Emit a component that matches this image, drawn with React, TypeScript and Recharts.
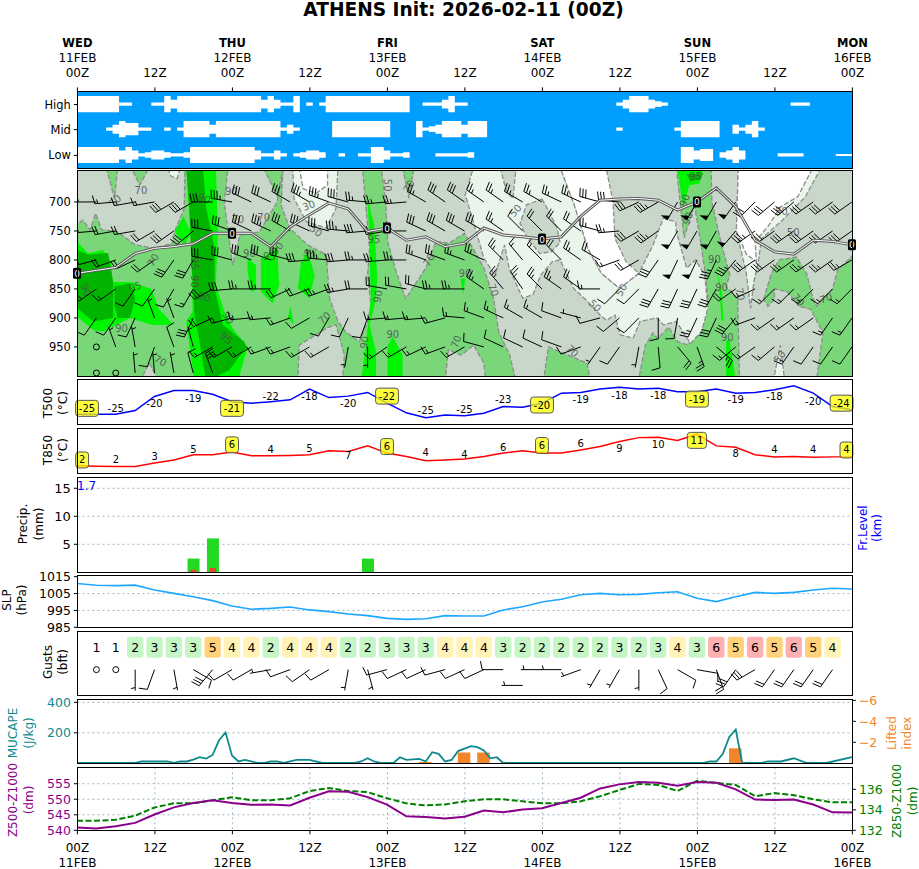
import React from "react";
import { Area, Bar, CartesianGrid, ComposedChart, Line, Scatter, XAxis, YAxis } from "recharts";

const H3 = Array.from({ length: 41 }, (_, i) => i * 3);
const X_TICKS = [0, 12, 24, 36, 48, 60, 72, 84, 96, 108, 120];
const X_GRID = [12, 24, 36, 48, 60, 72, 84, 96, 108];
const DAYS = ["WED", "THU", "FRI", "SAT", "SUN", "MON"];
const DATES = ["11FEB", "12FEB", "13FEB", "14FEB", "15FEB", "16FEB"];

// cloud cover, change points
const highHours = [0,6.5,8.5,11.5,13.5,14.5,15.5,28.5,29.5,30.5,31.5,33.5,34.5,35.5,36.5,37.5,38.5,51.5,53.5,56.5,57.5,58.5,60.5,83.5,84.5,85.5,88.5,89.5,90.5,91.5,110.5,113.5,120];
const highCover = [100,20,0,20,100,55,100,55,100,55,20,100,0,20,0,20,100,0,20,55,100,20,0,20,55,100,55,35,20,0,20,0,0];
const midHours = [0,4.5,5.5,6.5,7.5,9.5,11.5,13.5,14.5,15.5,16.5,20.5,21.5,31.5,32.5,33.5,34.5,39.5,48.5,52.5,53.5,54.5,55.5,56.5,59.5,60.5,63.5,83.5,84.5,92.5,93.5,99.5,101.5,102.5,103.5,104.5,105.5,106.5,120];
const midCover = [0,20,55,100,75,20,0,20,0,20,100,55,100,20,55,20,0,100,0,100,20,35,55,100,55,100,0,20,0,20,100,0,55,20,55,100,20,0,0];
const lowHours = [0,6.5,7.5,8.5,9.5,10.5,11.5,13.5,14.5,16.5,17.5,27.5,28.5,30.5,31.5,32.5,33.5,34.5,35.5,37.5,38.5,40.5,41.5,43.5,45.5,47.5,48.5,50.5,51.5,55.5,60.5,61.5,93.5,95.5,96.5,98.5,99.5,100.5,101.5,102.5,103.5,108.5,112.5,117.5,120];
const lowCover = [100,55,100,55,20,35,55,35,20,35,100,55,20,55,20,0,20,35,55,35,0,20,0,20,100,55,20,35,0,20,35,0,100,55,75,0,35,55,100,55,0,20,0,12,12];

// relative humidity regions, [hour, hPa]
const rh70Left = [[-1,640],[47.1,640],[47.8,700],[48.1,768],[49.4,820],[50.9,867],[54,814],[55.6,768],[57.6,771],[60,754],[63,814],[64.5,866],[65.3,924],[67,964],[68,1010],[-1,1010]];
const rh70Mid = [[72.2,1010],[73,950],[79,978],[79.5,1010]];
const rh70Center = [[92.8,640],[94,762],[95.6,705],[96.6,770],[97.3,826],[97.7,866],[96.3,906],[95.9,930],[94.4,946],[93,941],[91.6,916],[89.9,936],[89.2,926],[88,947],[86.9,1010],[102.6,1010],[102.3,866],[100.5,846],[101.1,826],[99.8,774],[98.3,700],[98.2,640]];
const rh70Right = [[106.3,868],[107.5,824],[108.7,800],[111.4,795],[113,824],[113.8,860],[114.5,880],[117,850],[117.8,817],[121,783],[121,1010],[114.5,1010],[115.5,925],[113.6,885],[111.8,880],[110,855],[108,850],[108,868],[107,880]];
const rh50TopLeft = [[-1,640],[16.7,640],[16.6,711],[15.1,751],[14.8,771],[12,780],[9,774],[6.2,751],[3.8,748],[2.9,720],[2,748],[0.9,731],[-1,748]];
const rh50Spindle = [[23.4,640],[31.9,640],[31,700],[28.2,752],[25.2,757],[24.1,809],[23.4,752],[22.8,700]];
const rh50Middle = [[31.9,640],[44.2,640],[44.7,705],[45.3,780],[45,826],[45.5,878],[45,906],[43.7,941],[41.6,924],[40.4,906],[39.1,866],[38.6,791],[35.7,774],[32.9,745],[31.6,705]];
const rh50Bottom = [[34.2,1010],[34.4,947],[38.6,918],[40.1,911],[41.4,964],[41.1,1010]];
const rh50Low = [[57,1010],[57.5,955],[59.5,964],[61.4,947],[63,978],[63.3,1010]];
const rh50Corner = [[9.7,1010],[11.2,978],[12.7,1010]];
const rh70Wedge1 = [[4.5,640],[6.3,640],[5.8,694]];
const rh70Wedge2 = [[8.4,640],[11.2,640],[9.7,671]];
const rh70Wedge3 = [[28.8,640],[32,640],[31,690]];
const rh70Wedge4 = [[50.4,640],[52.2,640],[51.4,694]];
const rh50Island = [[72,695],[73,715],[74.3,744],[74.8,770],[73.4,786],[71.7,789],[69.9,766],[68.6,737],[69.6,705]];
const rh50Prong = [[65.5,640],[68,640],[67.5,694],[66.5,682]];
const rh30Main = [[61.4,640],[74.8,640],[77,705],[79.1,780],[81.2,823],[84,849],[87,823],[89.2,774],[90.8,728],[92.7,734],[92.8,751],[94.4,814],[95.8,800],[97.2,826],[97.7,883],[96.7,924],[95,944],[92.8,906],[90.8,912],[89.8,900],[87.2,906],[86.1,935],[84.1,929],[83.3,895],[82,904],[81,895],[79.1,872],[76.9,849],[74.8,800],[73.6,803],[71.8,826],[70.6,860],[69,866],[66.9,814],[66.2,774],[64.7,826],[63,797],[60.6,705],[60.1,688]];
const rh30Mid = [[33.4,640],[40.4,640],[40.1,711],[38.6,745],[35.5,734],[33.6,694]];
const rh30Right = [[102.4,640],[115.3,640],[113.5,676],[112.8,691],[109,734],[106,763],[105.5,803],[104.8,838],[104.3,883],[103.6,820],[102.1,751]];
const rh30Spot = [[107.8,1010],[108.9,947],[109.6,1010]];
const rh30Top = [[14,640],[16,640],[15.5,660],[14.5,655]];
const dryMid = [[34.4,640],[38.8,640],[38.8,671],[37,685],[35,677]];
const dryCenter = [[74.8,640],[81.9,640],[83,700],[83.3,763],[85,803],[87,823],[84,849],[81.2,823],[79.1,780],[77,705]];
const dryRight = [[102.4,640],[114,640],[111.6,691],[109,708],[107,742],[105,769],[105.2,803],[103.7,791],[102.1,751]];
const rh90List = [
  [[0,768],[1.7,789],[4,783],[5.3,803],[5.5,838],[8.5,838],[11.5,850],[12.7,885],[15,912],[11.7,912],[8.2,900],[4,924],[2.5,921],[0,897]],
  [[17.2,640],[21.5,640],[21.8,751],[21.5,843],[22.8,889],[24.1,918],[26.4,950],[24.9,1010],[18.2,1010],[16.9,906],[17.9,889],[17.7,780],[16.9,640]],
  [[15.1,751],[16.5,725],[17.7,754],[16.6,774]],
  [[26.4,797],[27.7,809],[27.7,852],[27,855],[26.4,821]],
  [[28.5,797],[31,780],[31.3,843],[30.3,875],[28.5,855]],
  [[34.7,803],[35.7,786],[36.8,826],[36,866],[34.2,849]],
  [[33.1,880],[32.6,900],[33.5,910]],
  [[45,694],[46,740],[46.5,832],[46.2,872],[45.3,912],[46.3,958],[46.3,1010],[44,1010],[44.7,947],[45.5,866],[45.3,768]],
  [[48.1,947],[48.9,932],[50.4,964],[50.4,1010],[48.1,1010]],
  [[59.4,832],[60.1,832],[59.8,860]],
  [[92.9,640],[97,640],[96.4,668],[94.8,671],[93.9,711]],
  [[98.7,803],[99.8,850],[100.1,905],[99.8,905],[99.4,840]],
  [[100.5,941],[101,935],[102,1010],[100.5,1010]],
];
const rh95List = [
  [[16.9,640],[19.5,640],[20,711],[21.3,780],[21.3,849],[22.6,912],[25.9,941],[26.2,950],[23.6,990],[20,1010],[18.7,924],[18.2,895],[17.7,797],[17.4,711]],
  [[0,783],[1.7,791],[4.8,788],[5.6,838],[5.6,900],[2.5,906],[0,883]],
  [[5.8,846],[8.2,840],[9,866],[8.2,900],[6.3,900],[5.8,878]],
  [[94.4,652],[97,650],[96.5,660],[95,665]],
];

const rhLabelHours = [9.9,5.9,19.7,23.9,24.9,28.9,35.9,37,48.1,51.4,11.8,26.7,29.8,31,36,18.2,18.2,19.7,9,1.4,46,46.6,54.5,38.3,44.5,48.9,23.4,23.1,6.9,12.9,58.7,67.9,60.1,64.5,84.3,80.2,76.7,98.7,99.8,102.7,100.7,108.8,111.7,116,109.1,110.9,95.8,94.1,94.6];
const rhLabelLevels = [680,698,694,682,731,727,706,750,671,673,800,789,794,780,790,806,837,864,846,852,764,863,800,900,942,928,900,935,919,974,941,715,823,852,852,879,957,799,848,859,933,967,869,866,716,753,656,697,728];
const rhLabelTexts = [70,70,90,90,70,70,30,50,50,70,70,90,95,90,90,95,90,90,95,90,95,90,70,70,90,90,90,95,90,70,70,50,90,70,50,50,70,90,90,70,90,50,70,70,50,50,95,90,90];
const rhLabelAngles = [0,-40,20,0,0,0,-20,40,90,-60,-60,0,0,-50,20,90,90,20,-20,70,0,-80,-60,-40,-80,0,60,40,0,30,-70,-50,0,70,-60,45,45,0,0,80,0,-50,50,-20,0,0,0,-70,-70];

// wind barbs per level, 3-hourly
const dir700 = [275,270,265,260,260,240,240,270,280,295,295,300,300,290,285,275,265,265,300,305,305,305,305,300,300,295,295,285,275,245,240,210,210,210,215,225,230,230,235,235,235];
const spd700 = [10,15,15,15,15,30,30,30,35,30,30,30,35,35,30,25,25,25,25,30,30,25,25,25,25,25,25,30,30,30,35,50,50,50,50,30,30,30,30,30,30];
const dir750 = [275,265,260,260,240,235,230,280,290,295,295,300,295,285,275,265,260,270,295,300,300,300,305,315,315,315,305,285,265,240,235,210,210,210,220,235,235,235,235,235,235];
const spd750 = [15,15,20,20,20,30,30,30,30,30,35,30,30,30,35,30,25,25,30,30,30,30,25,10,20,20,20,25,25,30,35,50,50,50,50,35,30,30,30,30,30];
const dir800 = [255,255,250,245,235,215,210,280,285,290,290,285,265,275,265,270,265,270,290,290,290,295,315,320,315,315,305,300,250,240,215,205,205,205,220,235,235,235,235,235,240];
const spd800 = [20,20,20,20,20,30,30,30,30,30,30,30,30,35,30,25,25,25,25,25,25,25,25,15,15,20,25,20,15,20,30,50,50,35,35,30,30,25,25,25,25];
const dir850 = [235,235,235,215,215,210,210,240,265,270,270,245,250,250,260,270,280,280,285,270,270,305,320,325,315,305,305,270,225,225,210,205,205,210,235,245,225,225,225,225,225];
const spd850 = [20,20,15,10,10,10,15,30,30,25,25,20,20,25,25,20,20,20,20,25,25,25,25,25,25,25,20,15,10,10,30,30,30,30,20,15,15,15,15,15,15];
const dir900 = [215,215,215,205,340,340,205,245,255,265,265,250,240,210,205,200,265,265,265,255,275,290,295,300,300,290,285,255,230,225,180,190,205,205,220,250,235,235,235,215,215];
const spd900 = [10,10,10,10,5,5,30,20,15,15,15,15,10,10,10,10,15,15,15,15,15,15,15,15,15,10,5,10,10,10,10,10,25,30,30,15,15,15,15,15,15];
const dir950 = [260,0,340,350,200,340,345,240,240,240,250,250,240,240,190,180,235,240,245,250,240,285,295,295,295,290,250,215,215,190,175,140,160,130,230,235,230,215,215,215,215];
const spd950 = [5,0,5,5,10,10,5,15,15,15,15,15,15,15,5,5,15,15,15,15,15,10,10,10,10,10,10,5,10,5,10,20,25,25,15,15,15,15,10,10,10];
const dir995 = [300,0,0,355,355,350,345,340];
const spd995 = [5,0,0,5,5,5,10,30];

const freezingLevel = [823,818,813,789,780,777,772,754,754,754,777,743,722,702,712,751,745,766,760,777,771,745,757,760,764,760,725,697,695,694,697,714,700,676,708,766,786,790,766,768,774];

const t500 = [-25,-25,-25,-24,-20.2,-18.6,-18.6,-19.6,-21.6,-22,-21.6,-21.1,-18.2,-20.5,-20.1,-19.1,-22,-24.6,-25.9,-25.2,-25.4,-24.7,-22.9,-23.1,-22,-19.3,-19.1,-18.2,-17.7,-18.2,-18,-18.9,-18.9,-18.2,-19.3,-19.1,-18.4,-17.3,-19.3,-22.9,-23.8];
const t500LabelHours = [0,6,12,18,24,30,36,42,48,54,60,66,72,78,84,90,96,102,108,114,120];
const t500LabelTexts = ["-25","-25","-20","-19","-21","-22","-18","-20","-22","-25","-25","-23","-20","-19","-18","-18","-19","-19","-18","-20","-24"];
const t500LabelPos = [-23.4,-23.4,-22,-20.7,-23.4,-20.2,-20.1,-22.2,-20.1,-24.1,-23.7,-21.1,-22.5,-21.1,-19.8,-19.8,-20.9,-20.9,-20.1,-21.6,-22];

const t850 = [2,1.9,1.8,1.8,2.8,3.7,5.2,5.2,6,4.9,4.9,5,5.2,6.4,6.2,7.8,5.7,4.7,3.5,3.7,4,4.7,5.7,6.4,5.7,5.7,6.6,7.6,9.1,10.2,10.3,9.4,11.2,7.8,7.4,5.2,4.6,4.7,4.5,4.6,4.6];
const t850LabelTexts = ["2","2","3","5","6","4","5","7","6","4","4","6","6","6","9","10","11","8","4","4","4"];
const t850LabelPos = [3.7,3.7,4.7,6.6,8.1,6.6,6.9,4.9,7.6,6,5.4,7.4,7.9,8.4,6.9,8.1,9.4,5.5,6.6,6.6,6.6];

const rainHours = [18, 21, 45];
const rainTotal = [2.4, 6, 2.4];
const rainConvective = [0.4, 0.7, 0];

const slp = [1011,1009.9,1009.7,1010,1007.1,1005.1,1003.1,1000.8,997.6,995.7,996.2,997,995.3,994.3,992.9,991.9,990.3,989.7,990.1,991.9,991.7,991.7,995.3,997.2,1000,1001.6,1004.3,1005.1,1004.3,1004.5,1005.5,1006.1,1002.2,1000.2,1003.1,1005.7,1005.1,1005.7,1007.1,1008.1,1007.7];

const gustHours = [3,6,9,12,15,18,21,24,27,30,33,36,39,42,45,48,51,54,57,60,63,66,69,72,75,78,81,84,87,90,93,96,99,102,105,108,111,114,117];
const gustBft = [1,1,2,3,3,3,5,4,4,2,4,4,4,2,2,3,3,3,4,4,4,3,2,2,2,2,2,3,2,3,4,3,6,5,6,5,6,5,4];
const wind10Dir = [0,0,180,200,170,120,220,240,240,260,250,235,240,190,165,255,245,245,255,245,245,270,270,270,270,250,210,210,180,155,120,100,160,215,240,215,215,215,215];
const wind10Spd = [0,0,5,10,5,10,30,10,10,5,10,10,10,5,5,10,10,10,10,10,10,10,5,5,5,5,5,5,5,10,10,10,20,30,30,20,20,20,20];

const capeHours = [0,9,10,14,15,16,17,18,19,20,21,22,23,24,25,26,27,28,29,30,31,32,33,34,36,38,43,44,45,46,47,49,50,51,53,54,55,56,57,58,59,61,62,63,64,65,66,97,98,99,100,101,102,103,106,107,109,111,113,116,120];
const capeValues = [0,0,10,10,0,10,10,22,38,29,53,149,200,49,10,20,10,0,0,10,10,0,10,20,20,0,0,10,31,10,0,0,38,20,27,10,71,60,10,20,78,111,104,82,31,38,0,0,10,10,60,171,220,0,0,10,10,31,0,0,38];
const liftedHours = [54, 60, 63, 102];
const liftedValues = [-0.1, -1, -1, -1.4];

const z500 = [540.8,540.5,541.2,542.3,545,547.3,548.7,549.6,548.7,548.1,548.2,547.9,550.4,552.5,552.3,550.6,548.2,544.4,544.2,543.7,544.3,546.3,545.7,546.6,547,548.7,550.4,553.4,554.7,555.5,555.2,554.3,555.5,555.2,553.1,549.8,549.7,549.8,548.2,545.7,545.6];
const z850 = [132.9,132.9,133,133.4,134.2,134.6,134.6,134.9,135.2,134.9,134.9,135.1,135.8,136.1,135.8,135.7,135.1,134.6,134.4,134.5,134.8,135,135,134.8,134.6,134.6,134.8,135.3,135.9,136.5,136.4,135.8,136.8,136.6,136.4,135.3,135.6,135.4,135,134.7,134.7];

const GRID_STROKE = "#9fb6c4";
const PLOT_LEFT = 77.4;
const PLOT_W = 775;

const series = (values: number[]) => values.map((v, i) => ({ h: H3[i], y: v }));
const points = (pts: number[][]) => pts.map(([h, y]) => ({ h, y }));

const cloudBand = (hours: number[], cover: number[], center: number) =>
  hours.map((h, i) => ({ h, band: [center - cover[i] * 0.0032, center + cover[i] * 0.0032] }));

const barbRows = [
  [700, dir700, spd700], [750, dir750, spd750], [800, dir800, spd800],
  [850, dir850, spd850], [900, dir900, spd900], [950, dir950, spd950], [995, dir995, spd995],
] as [number, number[], number[]][];
const barbData = barbRows.flatMap(([p, d, s]) => d.map((dir, i) => ({ h: H3[i], y: p, dir, spd: s[i] })));
const rhLabels = rhLabelHours.map((h, i) => ({ h, y: rhLabelLevels[i], text: rhLabelTexts[i], angle: rhLabelAngles[i] }));
const tempLabels = (texts: string[], pos: number[]) => t500LabelHours.map((h, i) => ({ h, y: pos[i], text: texts[i], boxed: h % 24 === 0 }));
const precipData = rainHours.map((h, i) => ({ h, rain: rainTotal[i], conv: rainConvective[i] }));
const gustData = gustHours.map((h, i) => ({ h, y: 0.748, bft: gustBft[i] }));
// the 69h barb sits lower in the reference panel
const wind10Data = gustHours.map((h, i) => ({ h, y: h === 69 ? 0.155 : 0.4, dir: wind10Dir[i], spd: wind10Spd[i] }));
const capeData = capeHours.map((h, i) => ({ h, y: capeValues[i] }));
const liftedData = liftedHours.map((h, i) => ({ h, li: liftedValues[i] }));

const bftColor = (b: number) => (b >= 6 ? "#ffb0b0" : b === 5 ? "#ffd27a" : b === 4 ? "#fff3b8" : b >= 2 ? "#c6f5c6" : "none");

const Barb = (props: any) => {
  const { cx, cy, payload } = props;
  const { dir, spd } = payload;
  if (!spd) return <circle cx={cx} cy={cy} r={3} fill="none" stroke="#000" strokeWidth={1} />;
  const a = (dir * Math.PI) / 180;
  const ux = Math.sin(a);
  const uy = -Math.cos(a);
  const vx = -uy;
  const vy = ux;
  const len = 21;
  const fx = cx + ux * len;
  const fy = cy + uy * len;
  const parts: React.ReactNode[] = [];
  let rem = Math.round(spd / 5) * 5;
  let pos = 0;
  while (rem >= 50) {
    const x0 = fx - ux * pos;
    const y0 = fy - uy * pos;
    const x1 = x0 - ux * 5;
    const y1 = y0 - uy * 5;
    parts.push(<polygon key={`f${pos}`} points={`${x0},${y0} ${x1},${y1} ${x0 + vx * 8 - ux * 1},${y0 + vy * 8 - uy * 1}`} fill="#000" />);
    pos += 6;
    rem -= 50;
  }
  while (rem >= 10) {
    const x0 = fx - ux * pos;
    const y0 = fy - uy * pos;
    parts.push(<line key={`b${pos}`} x1={x0} y1={y0} x2={x0 + vx * 8.5 + ux * 1.8} y2={y0 + vy * 8.5 + uy * 1.8} stroke="#000" strokeWidth={1} />);
    pos += 3;
    rem -= 10;
  }
  if (rem >= 5) {
    if (pos === 0) pos = 3;
    const x0 = fx - ux * pos;
    const y0 = fy - uy * pos;
    parts.push(<line key="h" x1={x0} y1={y0} x2={x0 + vx * 4.2 + ux * 0.9} y2={y0 + vy * 4.2 + uy * 0.9} stroke="#000" strokeWidth={1} />);
  }
  return (
    <g>
      <line x1={cx} y1={cy} x2={fx} y2={fy} stroke="#000" strokeWidth={1} />
      {parts}
    </g>
  );
};

const RhLabel = (props: any) => {
  const { cx, cy, payload } = props;
  return (
    <text x={cx} y={cy} fontSize={10} fill="#4d4d4d" fillOpacity={0.85} textAnchor="middle" dominantBaseline="central" transform={`rotate(${payload.angle} ${cx} ${cy})`}>
      {payload.text}
    </text>
  );
};

const TempLabel = (props: any) => {
  const { cx, cy, payload } = props;
  const t: string = payload.text;
  if (!payload.boxed) {
    return <text x={cx} y={cy} fontSize={10} fill="#000" textAnchor="middle" dominantBaseline="central">{t}</text>;
  }
  const digits = t.replace("-", "").length;
  const w = digits * 6.36 + (t.startsWith("-") ? 3.6 : 0) + 6.5;
  const left = Math.max(-1.4, Math.min(PLOT_W + 1 - w, cx - w / 2));
  return (
    <g>
      <rect x={left} y={cy - 8} width={w} height={16} rx={3} fill="#ffff00" fillOpacity={0.75} stroke="#555" strokeWidth={1} />
      <text x={left + w / 2} y={cy} fontSize={10} fill="#000" textAnchor="middle" dominantBaseline="central">{t}</text>
    </g>
  );
};

const GustBox = (props: any) => {
  const { cx, cy, payload } = props;
  return (
    <g>
      <rect x={cx - 8.2} y={cy - 10.5} width={16.4} height={21} rx={3} fill={bftColor(payload.bft)} />
      <text x={cx} y={cy} fontSize={12.5} fill="#000" textAnchor="middle" dominantBaseline="central">{payload.bft}</text>
    </g>
  );
};

const FreezeDot = (props: any) => {
  const { cx, cy, payload } = props;
  if (payload.h % 24 !== 0) return null;
  return (
    <g key={payload.h}>
      <rect x={cx - 4} y={cy - 5.5} width={8} height={11} rx={1.5} fill="#000" />
      <text x={cx} y={cy + 0.5} fontSize={9} fill="#fff" textAnchor="middle" dominantBaseline="central">0</text>
    </g>
  );
};

const TopTick = (props: any) => {
  const { x, payload } = props;
  const i = payload.value / 24;
  const base = 91.4;
  return (
    <g>
      {Number.isInteger(i) && <text x={x} y={base - 48.5} fontSize={11.5} fontWeight="bold" textAnchor="middle" dominantBaseline="central">{DAYS[i]}</text>}
      {Number.isInteger(i) && <text x={x} y={base - 33.5} fontSize={12} textAnchor="middle" dominantBaseline="central">{DATES[i]}</text>}
      <text x={x} y={base - 18} fontSize={12} textAnchor="middle" dominantBaseline="central">{payload.value % 24 === 0 ? "00Z" : "12Z"}</text>
    </g>
  );
};

const BottomTick = (props: any) => {
  const { x, payload } = props;
  const i = payload.value / 24;
  return (
    <g>
      <text x={x} y={848} fontSize={12} textAnchor="middle" dominantBaseline="central">{payload.value % 24 === 0 ? "00Z" : "12Z"}</text>
      {Number.isInteger(i) && <text x={x} y={862.7} fontSize={12} textAnchor="middle" dominantBaseline="central">{DATES[i]}</text>}
    </g>
  );
};

// scales, ticks and grid of one panel; the chart spans the whole page so header ticks land in place
function PanelAxes(props: any) {
  const { top, height, domain, reversed, ticks, tickColor = "#000", tickFont = 12.5, format, grid, rightDomain, rightReversed, rightTicks, rightColor, rightFormat, header, footer } = props;
  return (
    <div style={{ position: "absolute", left: 0, top: 0 }}>
      <ComposedChart
        width={919}
        height={869}
        data={[{ h: 0, y: domain[0] }]}
        margin={{ top: header ? top - 6 : top, bottom: 869 - top - height - 6, left: PLOT_LEFT - 50, right: 919 - PLOT_LEFT - PLOT_W - 50 }}
      >
        <CartesianGrid stroke={GRID_STROKE} strokeDasharray="2 3" vertical verticalValues={X_GRID} horizontal={!!grid} horizontalValues={grid || []} />
        <XAxis dataKey="h" type="number" domain={[0, 120]} ticks={X_TICKS} interval={0} height={6} tickSize={4} axisLine={false} tickLine={{ stroke: "#000" }} tick={footer ? <BottomTick /> : false as any} tickFormatter={() => ""} allowDataOverflow />
        {header && (
          <XAxis xAxisId="top" orientation="top" dataKey="h" type="number" domain={[0, 120]} ticks={X_TICKS} interval={0} height={6} tickSize={4} axisLine={false} tickLine={{ stroke: "#000" }} tick={<TopTick />} allowDataOverflow />
        )}
        <YAxis dataKey="y" type="number" width={50} domain={domain} reversed={reversed} ticks={ticks || []} interval={0} tickSize={3.5} tickMargin={3} axisLine={false} tickLine={{ stroke: "#000" }} tick={{ fontSize: tickFont, fill: tickColor }} tickFormatter={format} allowDataOverflow />
        <YAxis yAxisId="r" orientation="right" type="number" width={50} domain={rightDomain || [0, 1]} reversed={rightReversed} ticks={rightTicks || []} interval={0} tickSize={3.5} tickMargin={3} axisLine={false} tickLine={{ stroke: "#000" }} tick={{ fontSize: tickFont, fill: rightColor || "#000" }} tickFormatter={rightFormat} allowDataOverflow />
      </ComposedChart>
    </div>
  );
}

// marks of one panel, exactly the size of the plot area
function Marks(props: any) {
  const { top, height, domain, reversed, rightDomain, rightReversed, clip, data, background, children } = props;
  return (
    <div style={{ position: "absolute", left: PLOT_LEFT, top, width: PLOT_W, height, overflow: clip ? "hidden" : "visible", background }}>
      <ComposedChart width={PLOT_W} height={height} data={data} margin={{ top: 0, right: 0, bottom: 0, left: 0 }}>
        <XAxis dataKey="h" type="number" domain={[0, 120]} hide allowDataOverflow={!!clip} />
        <XAxis xAxisId="inner" dataKey="h" type="number" domain={[0, 120]} hide allowDataOverflow={!!clip} />
        <YAxis dataKey="y" type="number" domain={domain} reversed={reversed} hide allowDataOverflow={!!clip} />
        {rightDomain && <YAxis yAxisId="r" type="number" orientation="right" domain={rightDomain} reversed={rightReversed} hide allowDataOverflow={!!clip} />}
        {children}
      </ComposedChart>
    </div>
  );
}

const Frame = ({ top, height }: { top: number; height: number }) => (
  <div style={{ position: "absolute", left: PLOT_LEFT - 0.6, top: top - 0.6, width: PLOT_W + 1.2, height: height + 1.2, boxSizing: "border-box", border: "1.2px solid #000", pointerEvents: "none" }} />
);

const region = (pts: number[][], fill: string, key: string, stroked = true) => (
  <Scatter
    key={key}
    data={points(pts)}
    isAnimationActive={false}
    shape={() => null as any}
    lineJointType="linearClosed"
    line={{ fill, stroke: stroked ? "#8c8c8c" : "none", strokeWidth: 1.3, strokeDasharray: "5 2" } as any}
  />
);

const AxisTitle = ({ x, y, color = "#000", children }: any) => (
  <text x={x} y={y} fontSize={12} fill={color} textAnchor="middle" dominantBaseline="central" transform={`rotate(-90 ${x} ${y})`}>{children}</text>
);

const GREY = "#c9d7ca";
const GREEN = "#79d679";
const BRIGHT = "#00f500";
const DARK = "#00b400";
const PALE = "#e9f4ea";

export default function App() {
  return (
    <div style={{ position: "absolute", left: 0, top: 0, width: 919, height: 869, overflow: "hidden", background: "#fff", fontFamily: "'DejaVu Sans', sans-serif" }}>
      <style>{"svg{overflow:visible}"}</style>

      {/* Cloud layers */}
      <Marks top={91.4} height={76.9} domain={[0, 3.04]} background="#009fff" clip>
        <Area data={cloudBand(highHours, highCover, 2.52)} dataKey="band" type="stepAfter" stroke="none" fill="#fff" fillOpacity={1} isAnimationActive={false} />
        <Area data={cloudBand(midHours, midCover, 1.53)} dataKey="band" type="stepAfter" stroke="none" fill="#fff" fillOpacity={1} isAnimationActive={false} />
        <Area data={cloudBand(lowHours, lowCover, 0.51)} dataKey="band" type="stepAfter" stroke="none" fill="#fff" fillOpacity={1} isAnimationActive={false} />
      </Marks>
      <PanelAxes top={91.4} height={76.9} domain={[0, 3.04]} ticks={[0.51, 1.53, 2.52]} tickFont={11.5} format={(v: number) => (v > 2 ? "High" : v > 1 ? "Mid" : "Low")} header />
      <Frame top={91.4} height={76.9} />

      {/* Humidity and wind cross section */}
      <Marks top={171} height={205.2} domain={[646.6, 1000.5]} reversed background={GREY} clip>
        {region(rh70Left, GREEN, "g1")}
        {region(rh70Mid, GREEN, "g2")}
        {region(rh70Center, GREEN, "g3")}
        {region(rh70Right, GREEN, "g4")}
        {region(rh50TopLeft, GREY, "s1")}
        {region(rh50Spindle, GREY, "s2")}
        {region(rh50Middle, GREY, "s3")}
        {region(rh50Bottom, GREY, "s4")}
        {region(rh50Low, GREY, "s5")}
        {region(rh50Corner, GREY, "s6")}
        {region(rh70Wedge1, GREEN, "w1")}
        {region(rh70Wedge2, GREEN, "w2")}
        {region(rh70Wedge3, GREEN, "w3")}
        {region(rh70Wedge4, GREEN, "w4")}
        {region(rh30Main, PALE, "p1")}
        {region(rh50Island, GREY, "s7")}
        {region(rh50Prong, GREY, "s8")}
        {region(rh30Mid, PALE, "p2")}
        {region(rh30Right, PALE, "p3")}
        {region(rh30Spot, PALE, "p4")}
        {region(rh30Top, PALE, "p5")}
        {region(dryMid, "#fff", "d1")}
        {region(dryCenter, "#fff", "d2")}
        {region(dryRight, "#fff", "d3")}
        {rh90List.map((pts, i) => region(pts, BRIGHT, `b${i}`, false))}
        {rh95List.map((pts, i) => region(pts, DARK, `k${i}`, false))}
        <Scatter data={rhLabels} isAnimationActive={false} shape={<RhLabel />} />
        <Scatter data={barbData} isAnimationActive={false} shape={<Barb />} />
      </Marks>
      <PanelAxes top={171} height={205.2} domain={[646.6, 1000.5]} reversed ticks={[700, 750, 800, 850, 900, 950]} tickFont={11.5} />
      <Marks top={171} height={205.2} domain={[646.6, 1000.5]} reversed>
        <Line data={series(freezingLevel)} dataKey="y" stroke="#5a5a5a" strokeWidth={3} dot={false} isAnimationActive={false} />
        <Line data={series(freezingLevel)} dataKey="y" stroke="#fff" strokeWidth={1} dot={<FreezeDot />} isAnimationActive={false} />
      </Marks>
      <Frame top={171} height={205.2} />

      {/* T500 */}
      <PanelAxes top={380} height={44.3} domain={[-27.7, -15.75]} />
      <Marks top={380} height={44.3} domain={[-27.7, -15.75]}>
        <Line data={series(t500)} dataKey="y" stroke="#0000ff" strokeWidth={1.5} dot={false} isAnimationActive={false} />
        <Scatter data={tempLabels(t500LabelTexts, t500LabelPos)} isAnimationActive={false} shape={<TempLabel />} />
      </Marks>
      <Frame top={380} height={44.3} />

      {/* T850 */}
      <PanelAxes top={428.3} height={44.7} domain={[0, 13]} />
      <Marks top={428.3} height={44.7} domain={[0, 13]}>
        <Line data={series(t850)} dataKey="y" stroke="#ff0000" strokeWidth={1.5} dot={false} isAnimationActive={false} />
        <Scatter data={tempLabels(t850LabelTexts, t850LabelPos)} isAnimationActive={false} shape={<TempLabel />} />
      </Marks>
      <Frame top={428.3} height={44.7} />

      {/* Precipitation */}
      <PanelAxes top={477.3} height={95} domain={[0, 16.96]} ticks={[5, 10, 15]} tickFont={13} grid={[5, 10, 15]} />
      <Marks top={477.3} height={95} domain={[0, 16.96]} data={precipData} clip>
        <Bar dataKey="rain" fill="#22d822" barSize={12} isAnimationActive={false} />
        <Bar dataKey="conv" xAxisId="inner" fill="#f04030" barSize={6} isAnimationActive={false} />
      </Marks>
      <Frame top={477.3} height={95} />

      {/* SLP */}
      <PanelAxes top={576} height={51.3} domain={[985, 1015.4]} ticks={[985, 995, 1005, 1015]} tickFont={12.5} grid={[995, 1005]} />
      <Marks top={576} height={51.3} domain={[985, 1015.4]}>
        <Line data={series(slp)} dataKey="y" stroke="#1ea7ff" strokeWidth={1.6} dot={false} isAnimationActive={false} />
      </Marks>
      <Frame top={576} height={51.3} />

      {/* Gusts */}
      <PanelAxes top={631.3} height={64.4} domain={[0, 1]} />
      <Marks top={631.3} height={64.4} domain={[0, 1]} clip>
        <Scatter data={gustData} isAnimationActive={false} shape={<GustBox />} />
        <Scatter data={wind10Data} isAnimationActive={false} shape={<Barb />} />
      </Marks>
      <Frame top={631.3} height={64.4} />

      {/* MUCAPE and lifted index */}
      <PanelAxes top={699.3} height={64} domain={[0, 420]} ticks={[200, 400]} tickColor="#0e8a8f" tickFont={12.5} grid={[200, 400]} rightDomain={[-6.1, 0]} rightReversed rightTicks={[-6, -4, -2]} rightColor="#f28527" rightFormat={(v: number) => `\u2212${Math.abs(v)}`} />
      <Marks top={699.3} height={64} domain={[0, 420]} rightDomain={[-6.1, 0]} rightReversed data={liftedData}>
        <Bar dataKey="li" yAxisId="r" fill="#f28527" barSize={12.5} isAnimationActive={false} />
      </Marks>
      <Marks top={699.3} height={64} domain={[0, 420]}>
        <Line data={capeData} dataKey="y" stroke="#0e8a8f" strokeWidth={1.8} dot={false} isAnimationActive={false} />
      </Marks>
      <Frame top={699.3} height={64} />

      {/* Thickness */}
      <PanelAxes top={767.3} height={63} domain={[540, 560.3]} ticks={[540, 545, 550, 555]} tickColor="#8b008b" tickFont={12.5} grid={[545, 550, 555]} rightDomain={[132, 138.15]} rightTicks={[132, 134, 136]} rightColor="#008000" footer />
      <Marks top={767.3} height={63} domain={[540, 560.3]} rightDomain={[132, 138.15]}>
        <Line data={series(z850).map((d) => ({ h: d.h, z: d.y }))} dataKey="z" yAxisId="r" stroke="#008000" strokeWidth={2} strokeDasharray="6 2.5" dot={false} isAnimationActive={false} />
        <Line data={series(z500)} dataKey="y" stroke="#8b008b" strokeWidth={2} dot={false} isAnimationActive={false} />
      </Marks>
      <Frame top={767.3} height={63} />

      {/* Titles */}
      <svg width={919} height={869} style={{ position: "absolute", left: 0, top: 0, pointerEvents: "none" }}>
        <text x={463.5} y={9} fontSize={18.6} fontWeight="bold" textAnchor="middle" dominantBaseline="central">ATHENS Init: 2026-02-11 (00Z)</text>
        <text x={77} y={486} fontSize={12} fill="#0000ff" dominantBaseline="central">1.7</text>
        <AxisTitle x={48} y={403}>T500</AxisTitle>
        <AxisTitle x={63} y={403}>(°C)</AxisTitle>
        <AxisTitle x={48} y={450}>T850</AxisTitle>
        <AxisTitle x={63} y={450}>(°C)</AxisTitle>
        <AxisTitle x={23} y={524}>Precip.</AxisTitle>
        <AxisTitle x={39} y={524}>(mm)</AxisTitle>
        <AxisTitle x={7} y={600}>SLP</AxisTitle>
        <AxisTitle x={22} y={600}>(hPa)</AxisTitle>
        <AxisTitle x={48} y={662}>Gusts</AxisTitle>
        <AxisTitle x={63} y={662}>(bft)</AxisTitle>
        <AxisTitle x={13} y={733} color="#0e8a8f">MUCAPE</AxisTitle>
        <AxisTitle x={29} y={733} color="#0e8a8f">(J/kg)</AxisTitle>
        <AxisTitle x={13} y={800} color="#8b008b">Z500-Z1000</AxisTitle>
        <AxisTitle x={29} y={800} color="#8b008b">(dm)</AxisTitle>
        <AxisTitle x={863} y={528} color="#0000ff">Fr.Level</AxisTitle>
        <AxisTitle x={877} y={528} color="#0000ff">(km)</AxisTitle>
        <AxisTitle x={892} y={733} color="#f28527">Lifted</AxisTitle>
        <AxisTitle x={907} y={733} color="#f28527">index</AxisTitle>
        <AxisTitle x={897} y={801} color="#008000">Z850-Z1000</AxisTitle>
        <AxisTitle x={913} y={801} color="#008000">(dm)</AxisTitle>
      </svg>
    </div>
  );
}
